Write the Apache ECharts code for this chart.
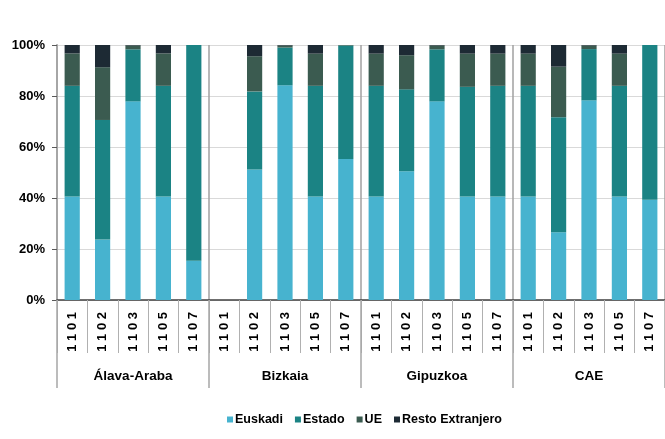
<!DOCTYPE html>
<html>
<head>
<meta charset="utf-8">
<script src="https://cdn.jsdelivr.net/npm/echarts@6/dist/echarts.min.js"></script>
<style>html,body{margin:0;padding:0;background:#fff}#c{width:665px;height:439px}</style>
</head>
<body>
<div id="c"></div>
<script>
var categories = ['1101','1102','1103','1105','1107','1101','1102','1103','1105','1107','1101','1102','1103','1105','1107','1101','1102','1103','1105','1107'];
var groups = ['Álava-Araba','Bizkaia','Gipuzkoa','CAE'];
var seriesNames = ['Euskadi','Estado','UE','Resto Extranjero'];
var euskadi = [40.6, 23.7, 77.9, 40.6, 15.4, null, 51.2, 84.2, 40.6, 55.3, 40.6, 50.5, 77.9, 40.6, 40.6, 40.6, 26.6, 78.3, 40.6, 39.3];
var estado  = [43.4, 46.9, 20.4, 43.4, 84.6, null, 30.6, 14.8, 43.4, 44.5, 43.4, 32.1, 20.4, 43.0, 43.4, 43.4, 45.1, 20.1, 43.4, 60.7];
var ue      = [12.7, 20.7, 1.5, 12.7, 0, null, 13.8, 0.8, 12.6, 0.2, 12.6, 13.4, 1.5, 13.0, 12.6, 12.6, 19.8, 1.4, 12.6, 0];
var resto   = [3.3, 8.7, 0.2, 3.3, 0, null, 4.4, 0.2, 3.4, 0, 3.4, 4.0, 0.2, 3.4, 3.4, 3.4, 8.5, 0.2, 3.4, 0];
var yTicks = [0, 20, 40, 60, 80, 100];

var colors = ['#47b3cf', '#1b8384', '#3b5b50', '#1d2a34'];
var FONT = '"Liberation Sans", Arial, sans-serif';

var chart = echarts.init(document.getElementById('c'), null, {renderer: 'canvas'});
var values = [euskadi, estado, ue, resto];
var series = seriesNames.map(function (n, i) {
  return {
    name: n, type: 'bar', stack: 'total', barWidth: '50%',
    xAxisIndex: 0, yAxisIndex: 0,
    itemStyle: {color: colors[i]},
    data: values[i]
  };
});

chart.setOption({
  animation: false,
  color: colors,
  grid: {left: 57, right: -2, top: 45, bottom: 139, containLabel: false},
  legend: {
    data: seriesNames,
    left: 222, top: 408,
    itemWidth: 6, itemHeight: 6, itemGap: 12,
    icon: 'rect',
    textStyle: {fontFamily: FONT, fontSize: 12.5, fontWeight: 'bold', color: '#000', padding: [0, 0, 0, -3]}
  },
  xAxis: [
    {
      type: 'category', data: categories, position: 'bottom',
      boundaryGap: true,
      axisLine: {show: true, lineStyle: {color: '#404040', width: 1.5}},
      axisTick: {show: true, interval: 0, length: 53, lineStyle: {color: '#b0b0b0', width: 1}},
      axisLabel: {
        interval: 0, rotate: 90, margin: 12,
        fontFamily: FONT, fontSize: 13, fontWeight: 'bold', color: '#000',
        formatter: function (v) { return v.split('').join(' '); }
      },
      splitLine: {show: false}
    },
    {
      type: 'category', data: groups, position: 'bottom',
      boundaryGap: true,
      axisLine: {show: false},
      axisTick: {show: true, interval: 0, length: 88, lineStyle: {color: '#a6a6a6', width: 1.5}},
      axisLabel: {interval: 0, margin: 69, fontFamily: FONT, fontSize: 13.5, fontWeight: 'bold', color: '#000'},
      splitLine: {show: true, interval: 0, lineStyle: {color: '#a0a0a0', width: 1.5}}
    }
  ],
  yAxis: {
    type: 'value', min: yTicks[0], max: yTicks[yTicks.length - 1], interval: 20,
    axisLine: {show: true, lineStyle: {color: '#a6a6a6', width: 2}},
    axisTick: {show: true, length: 5, lineStyle: {color: '#595959'}},
    axisLabel: {formatter: '{value}%', margin: 12, fontFamily: FONT, fontSize: 13, fontWeight: 'bold', color: '#000'},
    splitLine: {show: true, lineStyle: {color: '#d9d9d9', width: 1}}
  },
  series: series
});
</script>
</body>
</html>
